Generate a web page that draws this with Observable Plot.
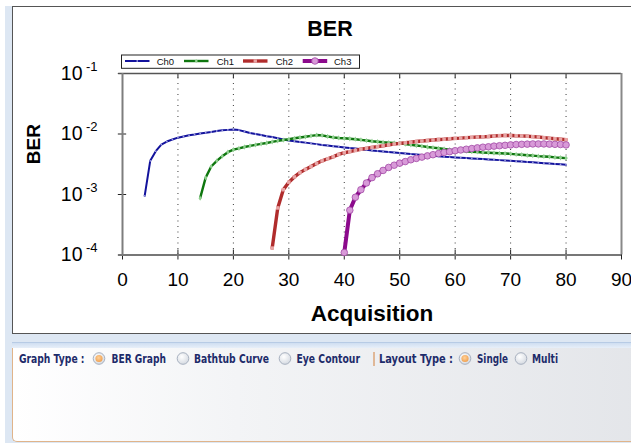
<!DOCTYPE html>
<html><head><meta charset="utf-8">
<script src="https://cdn.jsdelivr.net/npm/d3@7"></script>
<script src="https://cdn.jsdelivr.net/npm/@observablehq/plot@0.6"></script>
<style>
html,body{margin:0;padding:0;background:#fff;}
#root{position:relative;width:631px;height:443px;overflow:hidden;font-family:"Liberation Sans",Arial,sans-serif;}
#bg{position:absolute;left:5px;top:6px;right:0;bottom:0;background:#dde7f3;}
#panel{position:absolute;left:12px;top:6px;width:640px;height:328px;box-sizing:border-box;background:#fff;border:1.5px solid #555;}
#chart{position:absolute;left:0;top:0;}
#legend{position:absolute;left:121px;top:54px;}
#bar{position:absolute;left:12px;top:342px;width:640px;height:6px;box-sizing:border-box;border-top:1px solid #b7cbe5;background:linear-gradient(#cfdef1,#e7eff9);}
#ctrlbg{position:absolute;left:12px;top:348px;width:640px;height:94px;box-sizing:border-box;border-left:1.5px solid #e0b48a;border-bottom:1.5px solid #e0b48a;border-bottom-left-radius:5px;background:linear-gradient(to right,#ffffff 0%,#f3f4f6 35%,#e3e5e9 100%);}
#ctrl{position:absolute;left:0;top:345px;}
</style></head><body>
<div id="root">
<div id="bg"></div>
<div id="panel"></div>
<div id="chart"></div>
<div id="legend"></div>
<div id="bar"></div>
<div id="ctrlbg"></div>
<div id="ctrl"></div>
</div>
<script>
// ---------- data ----------
const seriesNames = ["Ch0", "Ch1", "Ch2", "Ch3"];
const seriesColors = ["#12129c", "#0e760e", "#b02c2c", "#8c0a8c"];
const markerFills = ["#9a9ae0", "#8fd08f", "#e8a4a4", "#d89ad8"];

const ch0Start = 4;
const ch0Ber = [9.5e-4, 3.6e-3, 5.2e-3, 6.7e-3, 7.5e-3, 8.1e-3, 8.7e-3, 9.1e-3, 9.5e-3, 9.8e-3,
  1.02e-2, 1.05e-2, 1.08e-2, 1.12e-2, 1.15e-2, 1.17e-2, 1.19e-2, 1.16e-2, 1.1e-2, 1.04e-2,
  1.0e-2, 9.6e-3, 9.2e-3, 8.9e-3, 8.5e-3, 8.1e-3, 7.8e-3, 7.6e-3, 7.4e-3, 7.2e-3,
  7.0e-3, 6.8e-3, 6.6e-3, 6.45e-3, 6.3e-3, 6.15e-3, 6.0e-3, 5.85e-3, 5.75e-3, 5.6e-3,
  5.5e-3, 5.35e-3, 5.25e-3, 5.15e-3, 5.05e-3, 4.95e-3, 4.85e-3, 4.75e-3, 4.65e-3, 4.6e-3,
  4.5e-3, 4.45e-3, 4.35e-3, 4.3e-3, 4.2e-3, 4.15e-3, 4.1e-3, 4.05e-3, 4.0e-3, 3.95e-3,
  3.9e-3, 3.85e-3, 3.8e-3, 3.75e-3, 3.7e-3, 3.65e-3, 3.6e-3, 3.55e-3, 3.5e-3, 3.45e-3,
  3.4e-3, 3.35e-3, 3.3e-3, 3.25e-3, 3.2e-3, 3.15e-3, 3.1e-3];

const ch1Start = 14;
const ch1Ber = [8.7e-4, 1.9e-3, 2.9e-3, 3.6e-3, 4.3e-3, 5.0e-3, 5.5e-3, 5.8e-3, 6.1e-3, 6.35e-3,
  6.6e-3, 6.85e-3, 7.1e-3, 7.4e-3, 7.7e-3, 7.95e-3, 8.2e-3, 8.5e-3, 8.75e-3, 9.0e-3,
  9.3e-3, 9.6e-3, 9.5e-3, 9.1e-3, 8.8e-3, 8.6e-3, 8.5e-3, 8.35e-3, 8.2e-3, 8.0e-3,
  7.8e-3, 7.6e-3, 7.45e-3, 7.3e-3, 7.2e-3, 7.1e-3, 7.0e-3, 6.8e-3, 6.6e-3, 6.45e-3,
  6.3e-3, 6.1e-3, 5.95e-3, 5.8e-3, 5.65e-3, 5.5e-3, 5.4e-3, 5.3e-3, 5.2e-3, 5.1e-3,
  5.05e-3, 4.95e-3, 4.9e-3, 4.85e-3, 4.8e-3, 4.75e-3, 4.7e-3, 4.6e-3, 4.55e-3, 4.45e-3,
  4.4e-3, 4.3e-3, 4.25e-3, 4.2e-3, 4.1e-3, 4.05e-3, 4.0e-3];

const ch2Start = 27;
const ch2Ber = [1.3e-4, 6.0e-4, 1.2e-3, 1.6e-3, 1.95e-3, 2.3e-3, 2.6e-3, 2.9e-3, 3.25e-3, 3.6e-3,
  3.9e-3, 4.2e-3, 4.6e-3, 4.9e-3, 5.1e-3, 5.35e-3, 5.6e-3, 5.8e-3, 6.0e-3, 6.2e-3,
  6.4e-3, 6.6e-3, 6.8e-3, 7.0e-3, 7.15e-3, 7.3e-3, 7.5e-3, 7.65e-3, 7.8e-3, 7.95e-3,
  8.1e-3, 8.2e-3, 8.35e-3, 8.45e-3, 8.55e-3, 8.7e-3, 8.8e-3, 8.9e-3, 9.0e-3, 9.1e-3,
  9.25e-3, 9.4e-3, 9.5e-3, 9.45e-3, 9.35e-3, 9.3e-3, 9.2e-3, 9.05e-3, 8.9e-3, 8.7e-3,
  8.5e-3, 8.35e-3, 8.2e-3, 8.05e-3];

const ch3Start = 40;
const ch3Ber = [1.1e-4, 5.5e-4, 9.0e-4, 1.2e-3, 1.55e-3, 1.9e-3, 2.2e-3, 2.5e-3, 2.8e-3, 3.05e-3,
  3.3e-3, 3.5e-3, 3.75e-3, 3.95e-3, 4.15e-3, 4.35e-3, 4.55e-3, 4.75e-3, 4.95e-3, 5.1e-3,
  5.3e-3, 5.45e-3, 5.6e-3, 5.75e-3, 5.9e-3, 6.05e-3, 6.15e-3, 6.3e-3, 6.4e-3, 6.5e-3,
  6.6e-3, 6.7e-3, 6.75e-3, 6.8e-3, 6.85e-3, 6.85e-3, 6.85e-3, 6.8e-3, 6.75e-3, 6.7e-3, 6.6e-3];

const xTicks = [0, 10, 20, 30, 40, 50, 60, 70, 80, 90];
const gridX = [10, 20, 30, 40, 50, 60, 70, 80];
const yTicks = [1e-1, 1e-2, 1e-3, 1e-4];
const xDomain = [0, 90];
const yDomain = [1e-4, 1e-1];

// ---------- build table ----------
const starts = [ch0Start, ch1Start, ch2Start, ch3Start];
const bers = [ch0Ber, ch1Ber, ch2Ber, ch3Ber];
const rows = seriesNames.map((name, k) => bers[k].map((v, i) => ({series: name, acq: starts[k] + i, ber: v})));

const lineWidths = [2, 2.4, 3.4, 4];
const markerOpts = [
  {r: 0.9, symbol: "circle", stroke: "none"},
  {r: 1.6, symbol: "diamond", stroke: "none"},
  {r: 2.0, symbol: "square", stroke: "none"},
  {r: 3.3, symbol: "circle", stroke: "#a24aa6", strokeWidth: 0.8}
];

const seriesMarks = [];
rows.forEach((data, k) => {
  seriesMarks.push(Plot.line(data, {x: "acq", y: "ber", stroke: seriesColors[k], strokeWidth: lineWidths[k], strokeLinejoin: "round", curve: "linear"}));
});
rows.forEach((data, k) => {
  seriesMarks.push(Plot.dot(data, {x: "acq", y: "ber", fill: markerFills[k], ...markerOpts[k]}));
});

const f = 1.21;
const chart = Plot.plot({
  width: 631, height: 335,
  marginLeft: 122, marginRight: 10, marginTop: 73, marginBottom: 80.5,
  x: {domain: xDomain},
  y: {type: "log", domain: yDomain},
  style: {background: "transparent", fontFamily: "'Liberation Sans', Arial, sans-serif", color: "#000", overflow: "visible"},
  marks: [
    Plot.ruleX(gridX, {x: d => d, y1: yDomain[0], y2: yDomain[1], stroke: "#3a3a3a", strokeWidth: 1, strokeDasharray: "1,4.5"}),
    Plot.ruleX(gridX, {x: d => d, y1: yDomain[1], y2: yDomain[1] / f, stroke: "#222", strokeWidth: 1}),
    Plot.ruleX(xTicks, {x: d => d, y1: yDomain[0] / f, y2: yDomain[0] * f, stroke: "#222", strokeWidth: 1}),
    Plot.ruleY(yTicks, {y: d => d, x1: -0.75, x2: 0.75, stroke: "#222", strokeWidth: 1}),
    Plot.ruleY([yDomain[1]], {y: d => d, x1: -0.7, x2: xDomain[1], stroke: "#555", strokeWidth: 1.3}),
    Plot.ruleY([yDomain[0]], {y: d => d, x1: -0.7, x2: xDomain[1], stroke: "#777", strokeWidth: 2}),
    Plot.ruleX([xDomain[0]], {x: d => d, y1: yDomain[0], y2: yDomain[1], stroke: "#7d7d7d", strokeWidth: 2}),
    Plot.ruleX([xDomain[1]], {x: d => d, y1: yDomain[0], y2: yDomain[1], stroke: "#888", strokeWidth: 2}),
    ...seriesMarks,
    Plot.axisX(xTicks, {tickSize: 0, tickPadding: 17, fontSize: 19, label: null, tickFormat: d => String(d)}),
    Plot.axisY(yTicks, {tickSize: 0, tickPadding: 40, fontSize: 19.5, label: null, tickFormat: () => "10"}),
    Plot.axisY(yTicks, {tickSize: 0, tickPadding: 25, fontSize: 13, dy: -7, label: null, tickFormat: d => String(Math.round(Math.log10(d)))}),
    Plot.text(["Acquisition"], {text: d => d, frameAnchor: "bottom", lineAnchor: "middle", dy: 58.5, fontSize: 22.5, fontWeight: "bold"}),
    Plot.text(["BER"], {text: d => d, frameAnchor: "left", lineAnchor: "middle", dx: -89, rotate: -90, fontSize: 19, fontWeight: "bold"}),
    Plot.text(["BER"], {text: d => d, frameAnchor: "top", lineAnchor: "middle", dx: -42, dy: -44.5, fontSize: 21.5, fontWeight: "bold"})
  ]
});
document.getElementById("chart").appendChild(chart);

// ---------- legend ----------
const lg = d3.select("#legend").append("svg").attr("width", 241).attr("height", 16);
lg.append("rect").attr("x", 0.5).attr("y", 1).attr("width", 238).attr("height", 13.3).attr("fill", "#fff").attr("stroke", "#222").attr("stroke-width", 1);
const legX = [4, 63, 122, 181.7];
const legTextX = [35.7, 95.7, 154.7, 213];
seriesNames.forEach((name, k) => {
  lg.append("line").attr("x1", legX[k]).attr("x2", legX[k] + 24.5).attr("y1", 7).attr("y2", 7)
    .attr("stroke", seriesColors[k]).attr("stroke-width", lineWidths[k]);
  const cx = legX[k] + 12.25;
  if (k === 1) lg.append("path").attr("d", `M${cx},5.3L${cx + 1.7},7L${cx},8.7L${cx - 1.7},7Z`).attr("fill", markerFills[k]);
  else if (k === 2) lg.append("rect").attr("x", cx - 1.7).attr("y", 5.3).attr("width", 3.4).attr("height", 3.4).attr("fill", markerFills[k]);
  else lg.append("circle").attr("cx", cx).attr("cy", 7).attr("r", markerOpts[k].r).attr("fill", markerFills[k]).attr("stroke", markerOpts[k].stroke === "none" ? null : markerOpts[k].stroke).attr("stroke-width", 0.8);
  lg.append("text").attr("x", legTextX[k]).attr("y", 10.6).attr("font-size", 9.5).attr("fill", "#111")
    .attr("font-family", "'Liberation Sans', Arial, sans-serif").text(name);
});

// ---------- control bar ----------
const ctrlLabels = [
  {t: "Graph Type :", x: 19, w: 65.5},
  {t: "BER Graph", x: 111.5, w: 54.5},
  {t: "Bathtub Curve", x: 194, w: 75},
  {t: "Eye Contour", x: 296.5, w: 63.5},
  {t: "Layout Type :", x: 379, w: 74},
  {t: "Single", x: 477, w: 31},
  {t: "Multi", x: 532, w: 26}
];
const radios = [{cx: 99, on: true}, {cx: 183, on: false}, {cx: 285, on: false}, {cx: 465, on: true}, {cx: 521, on: false}];
const cs = d3.select("#ctrl").append("svg").attr("width", 631).attr("height", 30);
const defs = cs.append("defs");
const g1 = defs.append("radialGradient").attr("id", "rOff").attr("cx", "40%").attr("cy", "35%").attr("r", "70%");
g1.append("stop").attr("offset", "0%").attr("stop-color", "#ffffff");
g1.append("stop").attr("offset", "100%").attr("stop-color", "#d3d8e0");
const g2 = defs.append("radialGradient").attr("id", "rOn").attr("cx", "45%").attr("cy", "40%").attr("r", "60%");
g2.append("stop").attr("offset", "0%").attr("stop-color", "#ffd29a");
g2.append("stop").attr("offset", "100%").attr("stop-color", "#f0a050");
const cy = 13.5;
radios.forEach(r => {
  cs.append("circle").attr("cx", r.cx).attr("cy", cy).attr("r", 5.8).attr("fill", "url(#rOff)").attr("stroke", "#a7b0bf").attr("stroke-width", 1);
  if (r.on) cs.append("circle").attr("cx", r.cx).attr("cy", cy).attr("r", 3.6).attr("fill", "url(#rOn)");
});
cs.append("line").attr("x1", 374).attr("x2", 374).attr("y1", 7).attr("y2", 21).attr("stroke", "#d99a66").attr("stroke-width", 1.3);
ctrlLabels.forEach(l => {
  cs.append("text").attr("x", l.x).attr("y", cy + 4.2).attr("font-size", 12).attr("font-weight", "bold")
    .attr("font-family", "'DejaVu Sans', Verdana, sans-serif").attr("fill", "#1d2b6a")
    .attr("textLength", l.w).attr("lengthAdjust", "spacingAndGlyphs").text(l.t);
});
</script>
</body></html>
